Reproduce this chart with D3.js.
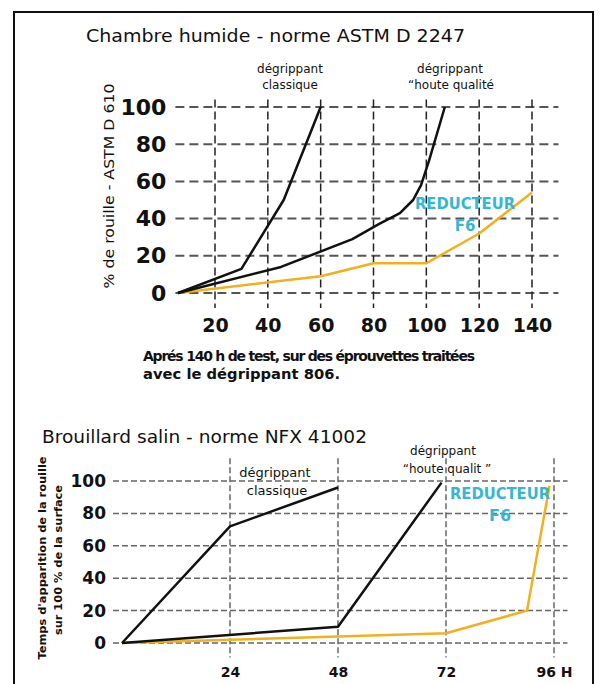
<!DOCTYPE html>
<html lang="fr">
  <head>
    <meta charset="UTF-8" />
    <title>Chambre humide / Brouillard salin</title>
    <script src="https://d3js.org/d3.v7.min.js"></script>
    <style>
      body { margin: 0; background: #fff; }
      svg { font-family: "DejaVu Sans", sans-serif; }
      .grid-h { stroke: #555; stroke-width: 2; stroke-dasharray: 9 5; }
      .grid-v { stroke: #222; stroke-width: 1.5; stroke-dasharray: 8 4; }
      .grid2 { stroke: #666; stroke-width: 1.5; stroke-dasharray: 6 3; }
      .curve { fill: none; stroke-width: 2.5; stroke-linejoin: round; }
      .axis .domain, .axis line { display: none; }
      .note { fill: #111; text-anchor: middle; }
      .f6 { fill: #35b6d3; font-weight: bold; text-anchor: middle; }
    </style>
  </head>
  <body>
    <svg width="600" height="684"></svg>
    <script>
      const width = 600;
      const height = 684;

      // ---- données : chambre humide (ASTM D 2247) ----
      const topXTicks = [20, 40, 60, 80, 100, 120, 140];
      const topYTicks = [0, 20, 40, 60, 80, 100];
      const topClassiqueX = [6, 30, 46, 60];
      const topClassiqueY = [0, 13, 50, 100];
      const topHauteX = [6, 45, 72, 82, 90, 95, 98, 101, 107];
      const topHauteY = [0, 14, 29, 37, 43, 50, 58, 71, 100];
      const topF6X = [6, 60, 80, 100, 120, 140];
      const topF6Y = [0, 9, 16, 16, 32, 54];

      // ---- données : brouillard salin (NFX 41002) ----
      const botXTicks = [24, 48, 72, 96];
      const botXTickLabels = ["24", "48", "72", "96 H"];
      const botYTicks = [0, 20, 40, 60, 80, 100];
      const botClassiqueX = [0, 24, 48];
      const botClassiqueY = [0, 72, 96];
      const botHauteX = [0, 48, 71];
      const botHauteY = [0, 10, 99];
      const botF6X = [0, 48, 72, 90, 95];
      const botF6Y = [0, 4, 6, 20, 97];

      const yellow = "#f2b01e";
      const svg = d3.select("svg").attr("width", width).attr("height", height);

      // cadre
      svg.append("rect")
        .attr("x", 14).attr("y", 12)
        .attr("width", 579).attr("height", 700)
        .attr("fill", "none").attr("stroke", "#111").attr("stroke-width", 2);

      // 1. graphique du haut
      const xTop = d3.scaleLinear().domain([20, 140]).range([215, 532]);
      const yTop = d3.scaleLinear().domain([0, 100]).range([293, 107]);

      const gTop = svg.append("g");

      gTop.selectAll(".gh")
        .data(topYTicks)
        .enter()
        .append("line")
        .attr("class", "grid-h")
        .attr("x1", xTop(5)).attr("x2", xTop(150))
        .attr("y1", (d) => yTop(d)).attr("y2", (d) => yTop(d));

      gTop.selectAll(".gv")
        .data(topXTicks)
        .enter()
        .append("line")
        .attr("class", "grid-v")
        .attr("x1", (d) => xTop(d)).attr("x2", (d) => xTop(d))
        .attr("y1", yTop(104)).attr("y2", yTop(-8));

      gTop.append("g")
        .attr("class", "axis")
        .attr("transform", `translate(${xTop(5)},0)`)
        .call(d3.axisLeft(yTop).tickValues(topYTicks).tickSize(0).tickPadding(9))
        .selectAll("text")
        .attr("font-size", 22).attr("font-weight", "bold").attr("fill", "#111")
        .attr("font-family", "DejaVu Sans");

      gTop.append("g")
        .attr("class", "axis")
        .attr("transform", `translate(0,${yTop(-8)})`)
        .call(d3.axisBottom(xTop).tickValues(topXTicks).tickSize(0).tickPadding(11))
        .selectAll("text")
        .attr("font-size", 19).attr("font-weight", "bold").attr("fill", "#111")
        .attr("font-family", "DejaVu Sans");

      const lineTop = (xs, ys) =>
        d3.line().x((d) => xTop(d)).y((d, i) => yTop(ys[i]))(xs);

      gTop.append("path").attr("class", "curve").attr("stroke", yellow)
        .attr("d", lineTop(topF6X, topF6Y));
      gTop.append("path").attr("class", "curve").attr("stroke", "#111")
        .attr("d", lineTop(topHauteX, topHauteY));
      gTop.append("path").attr("class", "curve").attr("stroke", "#111")
        .attr("d", lineTop(topClassiqueX, topClassiqueY));

      gTop.append("text")
        .attr("x", 86).attr("y", 42)
        .attr("font-size", 18).attr("fill", "#111")
        .attr("textLength", 379).attr("lengthAdjust", "spacingAndGlyphs")
        .text("Chambre humide - norme ASTM D 2247");

      gTop.append("text")
        .attr("transform", "translate(114,186) rotate(-90)")
        .attr("text-anchor", "middle")
        .attr("font-size", 14).attr("fill", "#111")
        .attr("textLength", 205).attr("lengthAdjust", "spacingAndGlyphs")
        .text("% de rouille - ASTM D 610");

      gTop.append("text").attr("class", "note").attr("font-size", 12)
        .attr("x", 290).attr("y", 73).text("dégrippant");
      gTop.append("text").attr("class", "note").attr("font-size", 12)
        .attr("x", 290).attr("y", 89).text("classique");
      gTop.append("text").attr("class", "note").attr("font-size", 12)
        .attr("x", 450).attr("y", 73).text("dégrippant");
      gTop.append("text").attr("class", "note").attr("font-size", 12)
        .attr("x", 451).attr("y", 89).text("\u201Choute qualité");

      gTop.append("text").attr("class", "f6").attr("font-size", 15)
        .attr("x", 465).attr("y", 209)
        .attr("textLength", 100).attr("lengthAdjust", "spacingAndGlyphs")
        .text("REDUCTEUR");
      gTop.append("text").attr("class", "f6").attr("font-size", 15)
        .attr("x", 465).attr("y", 231).text("F6");

      // note sous le graphique
      svg.append("text")
        .attr("x", 143).attr("y", 361)
        .attr("font-size", 14).attr("font-weight", 600).attr("fill", "#111")
        .attr("textLength", 332).attr("lengthAdjust", "spacing")
        .text("Aprés 140 h de test, sur des  éprouvettes traitées");
      svg.append("text")
        .attr("x", 143).attr("y", 379)
        .attr("font-size", 14).attr("font-weight", 600).attr("fill", "#111")
        .attr("textLength", 197).attr("lengthAdjust", "spacingAndGlyphs")
        .text("avec le dégrippant 806.");

      // 2. graphique du bas
      const xBot = d3.scaleLinear().domain([0, 96]).range([122, 554]);
      const yBot = d3.scaleLinear().domain([0, 100]).range([643, 481]);

      const gBot = svg.append("g");

      gBot.selectAll(".gh")
        .data(botYTicks)
        .enter()
        .append("line")
        .attr("class", "grid2")
        .attr("x1", xBot(-2)).attr("x2", xBot(99))
        .attr("y1", (d) => yBot(d)).attr("y2", (d) => yBot(d));

      gBot.selectAll(".gv")
        .data(botXTicks)
        .enter()
        .append("line")
        .attr("class", "grid2")
        .attr("x1", (d) => xBot(d)).attr("x2", (d) => xBot(d))
        .attr("y1", yBot(114)).attr("y2", yBot(-9));

      gBot.append("g")
        .attr("class", "axis")
        .attr("transform", `translate(${xBot(-2)},0)`)
        .call(d3.axisLeft(yBot).tickValues(botYTicks).tickSize(0).tickPadding(7))
        .selectAll("text")
        .attr("font-size", 17).attr("font-weight", 600).attr("fill", "#111")
        .attr("font-family", "DejaVu Sans");

      gBot.append("g")
        .attr("class", "axis")
        .attr("transform", `translate(0,${yBot(-9)})`)
        .call(
          d3.axisBottom(xBot).tickValues(botXTicks).tickSize(0).tickPadding(9)
            .tickFormat((d, i) => botXTickLabels[i])
        )
        .selectAll("text")
        .attr("font-size", 14).attr("font-weight", "bold").attr("fill", "#111")
        .attr("font-family", "DejaVu Sans");

      const lineBot = (xs, ys) =>
        d3.line().x((d) => xBot(d)).y((d, i) => yBot(ys[i]))(xs);

      gBot.append("path").attr("class", "curve").attr("stroke", yellow)
        .attr("d", lineBot(botF6X, botF6Y));
      gBot.append("path").attr("class", "curve").attr("stroke", "#111")
        .attr("d", lineBot(botHauteX, botHauteY));
      gBot.append("path").attr("class", "curve").attr("stroke", "#111")
        .attr("d", lineBot(botClassiqueX, botClassiqueY));

      gBot.append("text")
        .attr("x", 42).attr("y", 443)
        .attr("font-size", 17).attr("fill", "#111")
        .attr("textLength", 325).attr("lengthAdjust", "spacingAndGlyphs")
        .text("Brouillard salin - norme NFX 41002");

      gBot.append("text")
        .attr("transform", "translate(46,558) rotate(-90)")
        .attr("text-anchor", "middle")
        .attr("font-size", 11).attr("font-weight", 600).attr("fill", "#111")
        .attr("textLength", 203).attr("lengthAdjust", "spacingAndGlyphs")
        .text("Temps d'apparition de la rouille");
      gBot.append("text")
        .attr("transform", "translate(62,560) rotate(-90)")
        .attr("text-anchor", "middle")
        .attr("font-size", 11).attr("font-weight", 600).attr("fill", "#111")
        .attr("textLength", 150).attr("lengthAdjust", "spacingAndGlyphs")
        .text("sur 100 % de la surface");

      gBot.append("text").attr("class", "note").attr("font-size", 13)
        .attr("x", 275).attr("y", 477).text("dégrippant");
      gBot.append("text").attr("class", "note").attr("font-size", 13)
        .attr("x", 277).attr("y", 495).text("classique");
      gBot.append("text").attr("class", "note").attr("font-size", 12)
        .attr("x", 443).attr("y", 455).text("dégrippant");
      gBot.append("text").attr("class", "note").attr("font-size", 12)
        .attr("x", 447).attr("y", 473).text("\u201Choute qualit \u201D");

      gBot.append("text").attr("class", "f6").attr("font-size", 16)
        .attr("x", 500).attr("y", 499)
        .attr("textLength", 100).attr("lengthAdjust", "spacingAndGlyphs")
        .text("REDUCTEUR");
      gBot.append("text").attr("class", "f6").attr("font-size", 16)
        .attr("x", 500).attr("y", 521).text("F6");
    </script>
  </body>
</html>
